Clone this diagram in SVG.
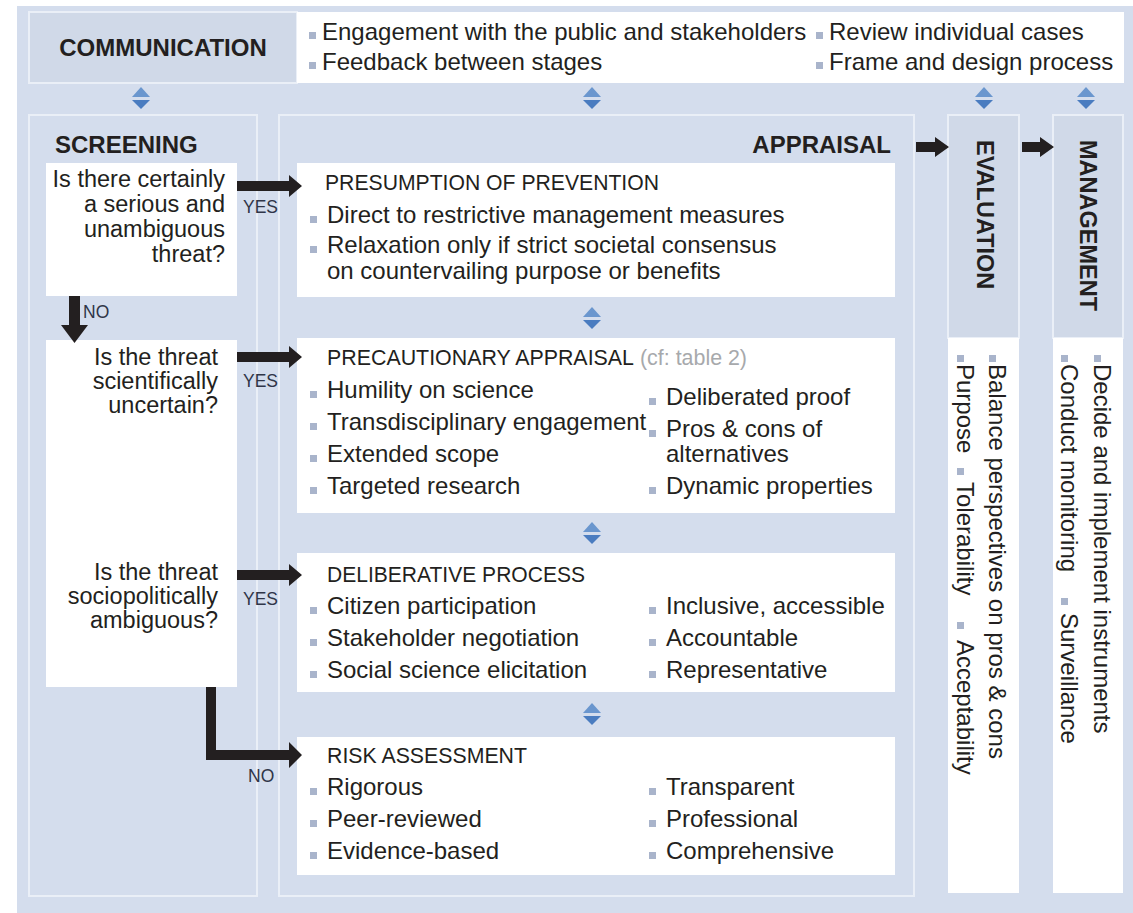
<svg xmlns="http://www.w3.org/2000/svg" xmlns:xlink="http://www.w3.org/1999/xlink" width="1133" height="913" viewBox="0 0 1133 913">
<style>
.t{font-family:"Liberation Sans",Arial,Helvetica,sans-serif;font-size:24px;fill:#231f20}
.b{font-weight:bold}
.h{font-size:22px}
.q{font-size:23.5px;text-anchor:end}
.yn{font-family:"Liberation Sans",Arial,sans-serif;font-size:17.5px;fill:#2f3548}
.gr{fill:#a7a9ac}
.bul{fill:#a9b4cb}
.wh{fill:#ffffff}
.panel{fill:none;stroke:#eaeff7;stroke-width:2}
.lab{fill:#d0d9e8;stroke:#eaeff7;stroke-width:2}
.arr{fill:#231f20}
.du{fill:#6a96ce}
.dd{fill:#4a7cc0}
</style>
<defs>
<g id="dbl"><path class="du" d="M-9,10 L0,0 L9,10 Z"/><path class="dd" d="M-9,13 L9,13 L0,22 Z"/></g>
<rect id="bu" class="bul" width="7" height="7"/>
</defs>
<rect x="17" y="6" width="1116" height="907" fill="#d4dded"/>

<g id="communication">
<rect class="lab" x="29" y="12" width="268" height="71"/>
<rect class="wh" x="297" y="12" width="827" height="71"/>
<text class="t b" x="163" y="56" text-anchor="middle">COMMUNICATION</text>
<use xlink:href="#bu" x="309" y="32"/><text class="t" x="322" y="40">Engagement with the public and stakeholders</text>
<use xlink:href="#bu" x="309" y="62"/><text class="t" x="322" y="70">Feedback between stages</text>
<use xlink:href="#bu" x="816" y="32"/><text class="t" x="829" y="40">Review individual cases</text>
<use xlink:href="#bu" x="816" y="62"/><text class="t" x="829" y="70">Frame and design process</text>
</g>

<g id="screening">
<rect class="panel" x="29" y="115" width="228" height="781"/>
<text class="t b" x="55" y="153">SCREENING</text>
</g>
<g id="q1">
<rect class="wh" x="46" y="163" width="191" height="133"/>
<text class="t q" x="225" y="187">Is there certainly</text>
<text class="t q" x="225" y="212">a serious and</text>
<text class="t q" x="225" y="237">unambiguous</text>
<text class="t q" x="225" y="262">threat?</text>
</g>
<g id="q2">
<rect class="wh" x="46" y="340" width="191" height="347"/>
<text class="t q" x="218" y="365">Is the threat</text>
<text class="t q" x="218" y="389">scientifically</text>
<text class="t q" x="218" y="413">uncertain?</text>
<text class="t q" x="218" y="580">Is the threat</text>
<text class="t q" x="218" y="604">sociopolitically</text>
<text class="t q" x="218" y="628">ambiguous?</text>
</g>

<g id="appraisal">
<rect class="panel" x="279" y="115" width="635" height="781"/>
<text class="t b" x="891" y="153" text-anchor="end">APPRAISAL</text>
</g>
<g id="presumption">
<rect class="wh" x="297" y="163" width="598" height="134"/>
<text class="t h" x="325" y="190" textLength="334" lengthAdjust="spacingAndGlyphs">PRESUMPTION OF PREVENTION</text>
<use xlink:href="#bu" x="310" y="216"/><text class="t" x="327" y="223">Direct to restrictive management measures</text>
<use xlink:href="#bu" x="310" y="246"/><text class="t" x="327" y="253">Relaxation only if strict societal consensus</text>
<text class="t" x="327" y="279">on countervailing purpose or benefits</text>
</g>
<g id="precautionary">
<rect class="wh" x="297" y="338" width="598" height="175"/>
<text class="t h" x="327" y="365" textLength="307" lengthAdjust="spacingAndGlyphs">PRECAUTIONARY APPRAISAL</text>
<text class="t h gr" x="640" y="365" textLength="107" lengthAdjust="spacingAndGlyphs">(cf: table 2)</text>
<use xlink:href="#bu" x="310" y="391"/><text class="t" x="327" y="398">Humility on science</text>
<use xlink:href="#bu" x="310" y="423"/><text class="t" x="327" y="430">Transdisciplinary engagement</text>
<use xlink:href="#bu" x="310" y="455"/><text class="t" x="327" y="462">Extended scope</text>
<use xlink:href="#bu" x="310" y="487"/><text class="t" x="327" y="494">Targeted research</text>
<use xlink:href="#bu" x="649" y="398"/><text class="t" x="666" y="405">Deliberated proof</text>
<use xlink:href="#bu" x="649" y="430"/><text class="t" x="666" y="437">Pros &amp; cons of</text>
<text class="t" x="666" y="462">alternatives</text>
<use xlink:href="#bu" x="649" y="487"/><text class="t" x="666" y="494">Dynamic properties</text>
</g>
<g id="deliberative">
<rect class="wh" x="297" y="553" width="598" height="139"/>
<text class="t h" x="327" y="582" textLength="258" lengthAdjust="spacingAndGlyphs">DELIBERATIVE PROCESS</text>
<use xlink:href="#bu" x="310" y="607"/><text class="t" x="327" y="614">Citizen participation</text>
<use xlink:href="#bu" x="310" y="639"/><text class="t" x="327" y="646">Stakeholder negotiation</text>
<use xlink:href="#bu" x="310" y="671"/><text class="t" x="327" y="678">Social science elicitation</text>
<use xlink:href="#bu" x="649" y="607"/><text class="t" x="666" y="614">Inclusive, accessible</text>
<use xlink:href="#bu" x="649" y="639"/><text class="t" x="666" y="646">Accountable</text>
<use xlink:href="#bu" x="649" y="671"/><text class="t" x="666" y="678">Representative</text>
</g>
<g id="risk">
<rect class="wh" x="297" y="737" width="598" height="138"/>
<text class="t h" x="327" y="763" textLength="200" lengthAdjust="spacingAndGlyphs">RISK ASSESSMENT</text>
<use xlink:href="#bu" x="310" y="788"/><text class="t" x="327" y="795">Rigorous</text>
<use xlink:href="#bu" x="310" y="820"/><text class="t" x="327" y="827">Peer-reviewed</text>
<use xlink:href="#bu" x="310" y="852"/><text class="t" x="327" y="859">Evidence-based</text>
<use xlink:href="#bu" x="649" y="788"/><text class="t" x="666" y="795">Transparent</text>
<use xlink:href="#bu" x="649" y="820"/><text class="t" x="666" y="827">Professional</text>
<use xlink:href="#bu" x="649" y="852"/><text class="t" x="666" y="859">Comprehensive</text>
</g>

<g id="evaluation">
<rect class="lab" x="948" y="115" width="71" height="223"/>
<rect class="wh" x="948" y="338" width="71" height="555"/>
<g transform="rotate(90)">
<text class="t b" x="140" y="-977" style="font-size:23.5px">EVALUATION</text>
<use xlink:href="#bu" x="355" y="-996"/><text class="t" x="364" y="-989">Balance perspectives on pros &amp; cons</text>
<use xlink:href="#bu" x="355" y="-964"/><text class="t" x="364" y="-957">Purpose</text>
<use xlink:href="#bu" x="468" y="-964"/><text class="t" x="482" y="-957">Tolerability</text>
<use xlink:href="#bu" x="622" y="-964"/><text class="t" x="640" y="-957">Acceptability</text>
</g>
</g>

<g id="management">
<rect class="lab" x="1053" y="115" width="70" height="223"/>
<rect class="wh" x="1053" y="338" width="70" height="555"/>
<g transform="rotate(90)">
<text class="t b" x="140" y="-1080" style="font-size:23.5px">MANAGEMENT</text>
<use xlink:href="#bu" x="355" y="-1101"/><text class="t" x="364" y="-1094">Decide and implement instruments</text>
<use xlink:href="#bu" x="355" y="-1068"/><text class="t" x="364" y="-1061">Conduct monitoring</text>
<use xlink:href="#bu" x="598" y="-1068"/><text class="t" x="613" y="-1061">Surveillance</text>
</g>
</g>

<g id="connectors">
<use xlink:href="#dbl" x="141" y="87"/>
<use xlink:href="#dbl" x="592" y="87"/>
<use xlink:href="#dbl" x="984" y="87"/>
<use xlink:href="#dbl" x="1086" y="87"/>
<use xlink:href="#dbl" x="592" y="307"/>
<use xlink:href="#dbl" x="592" y="522"/>
<use xlink:href="#dbl" x="592" y="703"/>
<path class="arr" d="M237,181 H289 V175 L302,186 L289,197 V191 H237 Z"/>
<path class="arr" d="M237,352 H289 V346 L302,357 L289,368 V362 H237 Z"/>
<path class="arr" d="M237,570 H289 V564 L302,575 L289,586 V580 H237 Z"/>
<path class="arr" d="M69,296 H80 V325 H88 L74.5,343 L61,325 H69 Z"/>
<path class="arr" d="M206,687 H216 V750 H289 V742 L302,755 L289,768 V760 H206 Z"/>
<path class="arr" d="M916,142 H935 V137 L949,147 L935,157 V152 H916 Z"/>
<path class="arr" d="M1022,142 H1040 V137 L1054,147 L1040,157 V152 H1022 Z"/>
<text class="yn" x="243" y="213">YES</text>
<text class="yn" x="243" y="387">YES</text>
<text class="yn" x="243" y="605">YES</text>
<text class="yn" x="83" y="318">NO</text>
<text class="yn" x="248" y="782">NO</text>
</g>
</svg>
